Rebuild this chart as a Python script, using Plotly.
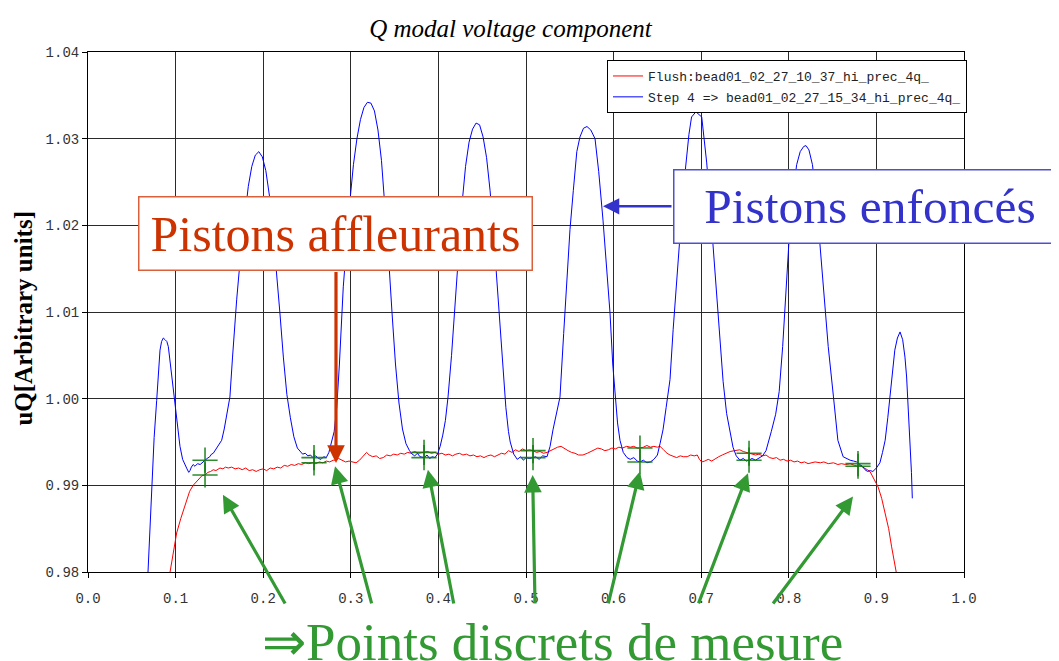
import plotly.graph_objects as go

# ---------------- data ----------------
flush_name = "Flush:bead01_02_27_10_37_hi_prec_4q_"
step_name = "Step 4 =&gt; bead01_02_27_15_34_hi_prec_4q_"

red_x = [0.0920, 0.0960, 0.1012, 0.1060, 0.1100, 0.1127, 0.1160, 0.1200, 0.1240, 0.1270,
         0.1300, 0.1336, 0.1370, 0.1400, 0.1430, 0.1460, 0.1507, 0.1540, 0.1570, 0.1600,
         0.1640, 0.1680, 0.1720, 0.1760, 0.1800, 0.1840, 0.1880, 0.1920, 0.1960, 0.2000,
         0.2040, 0.2080, 0.2120, 0.2160, 0.2200, 0.2240, 0.2280, 0.2320, 0.2360, 0.2400,
         0.2440, 0.2480, 0.2520, 0.2568, 0.2600, 0.2640, 0.2680, 0.2720, 0.2760, 0.2800,
         0.2830, 0.2860, 0.2900, 0.2940, 0.2980, 0.3020, 0.3060, 0.3100, 0.3140, 0.3180,
         0.3210, 0.3250, 0.3290, 0.3330, 0.3370, 0.3410, 0.3450, 0.3490, 0.3530, 0.3570,
         0.3610, 0.3650, 0.3690, 0.3730, 0.3770, 0.3836, 0.3880, 0.3920, 0.3960, 0.4000,
         0.4040, 0.4080, 0.4120, 0.4160, 0.4200, 0.4240, 0.4280, 0.4320, 0.4360, 0.4400,
         0.4440, 0.4480, 0.4520, 0.4560, 0.4600, 0.4640, 0.4680, 0.4720, 0.4760, 0.4800,
         0.4840, 0.4880, 0.4920, 0.4960, 0.5000, 0.5040, 0.5080, 0.5120, 0.5160, 0.5200,
         0.5240, 0.5280, 0.5320, 0.5360, 0.5400, 0.5440, 0.5480, 0.5520, 0.5560, 0.5600,
         0.5650, 0.5700, 0.5740, 0.5780, 0.5820, 0.5860, 0.5900, 0.5940, 0.5980, 0.6020,
         0.6060, 0.6100, 0.6150, 0.6190, 0.6230, 0.6270, 0.6301, 0.6340, 0.6380, 0.6420,
         0.6460, 0.6500, 0.6530, 0.6570, 0.6610, 0.6644, 0.6680, 0.6720, 0.6760, 0.6800,
         0.6840, 0.6880, 0.6920, 0.6955, 0.6980, 0.7006, 0.7040, 0.7080, 0.7120, 0.7160,
         0.7200, 0.7240, 0.7280, 0.7330, 0.7380, 0.7440, 0.7480, 0.7520, 0.7546, 0.7580,
         0.7620, 0.7660, 0.7700, 0.7740, 0.7780, 0.7820, 0.7860, 0.7900, 0.7940, 0.7980,
         0.8020, 0.8060, 0.8100, 0.8140, 0.8180, 0.8220, 0.8260, 0.8300, 0.8360, 0.8400,
         0.8450, 0.8510, 0.8560, 0.8600, 0.8650, 0.8700, 0.8750, 0.8790, 0.8810, 0.8850,
         0.8880, 0.8927, 0.8960, 0.8990, 0.9020, 0.9060, 0.9100, 0.9140, 0.9174, 0.9210,
         0.9235]
red_y = [0.9790, 0.9815, 0.9845, 0.9862, 0.9875, 0.9883, 0.9893, 0.9900, 0.9904, 0.9908,
         0.9911, 0.9912, 0.9915, 0.9916, 0.9918, 0.9917, 0.9920, 0.9919, 0.9921, 0.9920,
         0.9921, 0.9919, 0.9920, 0.9918, 0.9920, 0.9917, 0.9918, 0.9916, 0.9918, 0.9919,
         0.9917, 0.9920, 0.9919, 0.9921, 0.9920, 0.9923, 0.9922, 0.9924, 0.9923, 0.9925,
         0.9924, 0.9926, 0.9925, 0.9926, 0.9925, 0.9927, 0.9926, 0.9928, 0.9927, 0.9929,
         0.9929, 0.9931, 0.9929, 0.9927, 0.9928, 0.9927, 0.9926, 0.9929, 0.9934, 0.9938,
         0.9935, 0.9933, 0.9934, 0.9931, 0.9932, 0.9935, 0.9934, 0.9936, 0.9935, 0.9937,
         0.9936, 0.9938, 0.9937, 0.9939, 0.9937, 0.9938, 0.9939, 0.9937, 0.9938, 0.9936,
         0.9937, 0.9935, 0.9936, 0.9934, 0.9936, 0.9937, 0.9935, 0.9936, 0.9934, 0.9935,
         0.9933, 0.9934, 0.9932, 0.9934, 0.9935, 0.9933, 0.9935, 0.9937, 0.9936, 0.9940,
         0.9938, 0.9941, 0.9939, 0.9942, 0.9940, 0.9941, 0.9940, 0.9938, 0.9939, 0.9937,
         0.9938, 0.9940, 0.9942, 0.9944, 0.9945, 0.9942, 0.9940, 0.9938, 0.9937, 0.9935,
         0.9935, 0.9937, 0.9939, 0.9941, 0.9943, 0.9942, 0.9940, 0.9941, 0.9943, 0.9942,
         0.9944, 0.9943, 0.9945, 0.9944, 0.9945, 0.9943, 0.9943, 0.9944, 0.9946, 0.9944,
         0.9945, 0.9944, 0.9945, 0.9941, 0.9937, 0.9935, 0.9934, 0.9932, 0.9934, 0.9933,
         0.9933, 0.9935, 0.9934, 0.9935, 0.9930, 0.9927, 0.9928, 0.9930, 0.9928, 0.9931,
         0.9933, 0.9935, 0.9937, 0.9939, 0.9940, 0.9941, 0.9939, 0.9938, 0.9937, 0.9936,
         0.9935, 0.9936, 0.9934, 0.9935, 0.9932, 0.9931, 0.9932, 0.9929, 0.9930, 0.9928,
         0.9929, 0.9927, 0.9928, 0.9926, 0.9927, 0.9925, 0.9926, 0.9927, 0.9926, 0.9927,
         0.9925, 0.9926, 0.9924, 0.9925, 0.9924, 0.9925, 0.9923, 0.9922, 0.9923, 0.9921,
         0.9919, 0.9916, 0.9910, 0.9903, 0.9898, 0.9885, 0.9868, 0.9850, 0.9829, 0.9810,
         0.9795]

blue_x = [0.0685, 0.0705, 0.0727, 0.0755, 0.0784, 0.0805, 0.0822, 0.0840, 0.0860, 0.0880,
          0.0900, 0.0917, 0.0940, 0.0965, 0.0993, 0.1020, 0.1050, 0.1080, 0.1107, 0.1130,
          0.1150, 0.1164, 0.1180, 0.1200, 0.1221, 0.1250, 0.1280, 0.1310, 0.1336, 0.1360,
          0.1390, 0.1410, 0.1430, 0.1460, 0.1490, 0.1526, 0.1555, 0.1580, 0.1600, 0.1620,
          0.1650, 0.1697, 0.1750, 0.1790, 0.1830, 0.1870, 0.1910, 0.1950, 0.1990, 0.2030,
          0.2070, 0.2110, 0.2150, 0.2190, 0.2230, 0.2270, 0.2310, 0.2350, 0.2390,
          0.2420, 0.2450, 0.2480, 0.2510, 0.2540, 0.2568, 0.2600, 0.2630, 0.2660, 0.2690,
          0.2720, 0.2750, 0.2780, 0.2810, 0.2840, 0.2870, 0.2914, 0.2950, 0.2990, 0.3030,
          0.3070, 0.3110, 0.3150, 0.3190, 0.3230, 0.3270, 0.3310, 0.3350, 0.3390, 0.3430,
          0.3470, 0.3510, 0.3550, 0.3590, 0.3630, 0.3670, 0.3700, 0.3730, 0.3760, 0.3790,
          0.3836, 0.3870, 0.3900, 0.3930, 0.3960, 0.3990, 0.4020, 0.4050, 0.4080, 0.4110,
          0.4150, 0.4190, 0.4230, 0.4270, 0.4310, 0.4350, 0.4390, 0.4430, 0.4470, 0.4510,
          0.4550, 0.4590, 0.4630, 0.4670, 0.4710, 0.4740, 0.4770, 0.4800, 0.4820, 0.4860,
          0.4900, 0.4940, 0.4970, 0.5000, 0.5040, 0.5080, 0.5110, 0.5150, 0.5190, 0.5240,
          0.5275, 0.5308, 0.5350, 0.5388, 0.5430, 0.5470, 0.5502, 0.5540, 0.5580, 0.5616,
          0.5656, 0.5696, 0.5740, 0.5788, 0.5830, 0.5879, 0.5920, 0.5959, 0.5990, 0.6016,
          0.6045, 0.6073, 0.6110, 0.6153, 0.6190, 0.6230, 0.6270, 0.6301, 0.6340, 0.6380,
          0.6420, 0.6460, 0.6500, 0.6530, 0.6564, 0.6600, 0.6644, 0.6680, 0.6720, 0.6777,
          0.6820, 0.6860, 0.6890, 0.6940, 0.7006, 0.7030, 0.7063, 0.7100, 0.7135, 0.7175,
          0.7215, 0.7250, 0.7290, 0.7330, 0.7363, 0.7400, 0.7443, 0.7480, 0.7515, 0.7546,
          0.7580, 0.7620, 0.7660, 0.7700, 0.7740, 0.7770, 0.7800, 0.7850, 0.7890, 0.7930,
          0.7970, 0.8010, 0.8050, 0.8090, 0.8130, 0.8170, 0.8196, 0.8230, 0.8270, 0.8310,
          0.8350, 0.8380, 0.8410, 0.8450, 0.8510, 0.8560, 0.8620, 0.8660, 0.8700, 0.8740,
          0.8775, 0.8810, 0.8840, 0.8870, 0.8900, 0.8930, 0.8960, 0.9000, 0.9040, 0.9070,
          0.9100, 0.9130, 0.9155, 0.9180, 0.9210, 0.9240, 0.9270, 0.9300, 0.9326, 0.9345,
          0.9360, 0.9375, 0.9390, 0.9400, 0.9410]
blue_y = [0.9800, 0.9850, 0.9903, 0.9955, 0.9998, 1.0030, 1.0056, 1.0066, 1.0070, 1.0068,
          1.0066, 1.0060, 1.0040, 1.0022, 1.0001, 0.9972, 0.9945, 0.9930, 0.9923, 0.9919,
          0.9915, 0.9917, 0.9921, 0.9924, 0.9922, 0.9925, 0.9924, 0.9927, 0.9929, 0.9931,
          0.9933, 0.9936, 0.9937, 0.9942, 0.9946, 0.9952, 0.9965, 0.9979, 0.9992, 1.0002,
          1.0048, 1.0114, 1.0175, 1.0212, 1.0245, 1.0268, 1.0281, 1.0285, 1.0279, 1.0263,
          1.0235, 1.0195, 1.0150, 1.0100, 1.0048, 1.0005, 0.9978, 0.9956, 0.9943,
          0.9939, 0.9936, 0.9937, 0.9934, 0.9935, 0.9932, 0.9934, 0.9931, 0.9930, 0.9933,
          0.9932, 0.9938, 0.9950, 0.9962, 0.9990, 1.0040, 1.0129, 1.0180, 1.0228, 1.0270,
          1.0300, 1.0322, 1.0336, 1.0342, 1.0341, 1.0332, 1.0310, 1.0275, 1.0225, 1.0165,
          1.0100, 1.0040, 0.9995, 0.9965, 0.9948, 0.9940, 0.9936, 0.9934, 0.9937, 0.9933,
          0.9932, 0.9935, 0.9931, 0.9933, 0.9932, 0.9936, 0.9945, 0.9958, 0.9975, 1.0002,
          1.0050, 1.0108, 1.0170, 1.0225, 1.0268, 1.0296, 1.0311, 1.0318, 1.0316, 1.0302,
          1.0278, 1.0240, 1.0190, 1.0130, 1.0070, 1.0030, 0.9990, 0.9962, 0.9950, 0.9936,
          0.9930, 0.9933, 0.9929, 0.9932, 0.9931, 0.9932, 0.9933, 0.9930, 0.9934, 0.9933,
          0.9945, 0.9964, 0.9985, 1.0002, 1.0075, 1.0142, 1.0195, 1.0240, 1.0285, 1.0302,
          1.0312, 1.0314, 1.0310, 1.0300, 1.0262, 1.0206, 1.0150, 1.0099, 1.0040, 1.0002,
          0.9972, 0.9952, 0.9938, 0.9932, 0.9930, 0.9932, 0.9928, 0.9927, 0.9929, 0.9926,
          0.9927, 0.9930, 0.9935, 0.9948, 0.9964, 0.9990, 1.0022, 1.0080, 1.0140, 1.0214,
          1.0265, 1.0305, 1.0325, 1.0331, 1.0325, 1.0305, 1.0272, 1.0225, 1.0175, 1.0120,
          1.0060, 1.0020, 0.9983, 0.9960, 0.9944, 0.9934, 0.9929, 0.9931, 0.9928, 0.9929,
          0.9931, 0.9929, 0.9932, 0.9934, 0.9940, 0.9950, 0.9962, 0.9982, 1.0008, 1.0060,
          1.0130, 1.0195, 1.0240, 1.0270, 1.0285, 1.0291, 1.0292, 1.0287, 1.0270, 1.0235,
          1.0185, 1.0145, 1.0114, 1.0060, 1.0002, 0.9952, 0.9933, 0.9931, 0.9929, 0.9928,
          0.9927, 0.9924, 0.9922, 0.9918, 0.9916, 0.9917, 0.9916, 0.9920, 0.9926, 0.9938,
          0.9952, 0.9978, 1.0002, 1.0030, 1.0056, 1.0070, 1.0077, 1.0068, 1.0048, 1.0025,
          0.9998, 0.9970, 0.9941, 0.9915, 0.9885]

point_x = [0.1336, 0.2580, 0.3836, 0.5080, 0.6301, 0.7546, 0.8790]
point_blue = [0.9929, 0.9932, 0.9932, 0.9932, 0.9927, 0.9929, 0.9925]
point_red = [0.9912, 0.9926, 0.9938, 0.9940, 0.9943, 0.9937, 0.9922]

# green arrows: head (x, y) and tail (x, y) in data units
arrow_head_x = [0.154, 0.282, 0.388, 0.5076, 0.630, 0.7534, 0.8733]
arrow_head_y = [0.9889, 0.9922, 0.9918, 0.9912, 0.9916, 0.9914, 0.9887]
arrow_tail_x = [0.226, 0.3242, 0.4178, 0.5103, 0.5936, 0.6963, 0.7808]
arrow_tail_y = [0.9762, 0.9762, 0.9762, 0.9762, 0.9762, 0.9762, 0.9762]

title_text = "Q modal voltage component"
ytitle_text = "uQ[Arbitrary units]"
flush_label = "Pistons affleurants"
pushed_label = "Pistons enfoncés"
points_label = "⇒Points discrets de mesure"

# ---------------- figure ----------------
fig = go.Figure()
fig.add_trace(go.Scatter(x=red_x, y=red_y, mode="lines", name=flush_name,
                         legendgroup="a", line=dict(color="#ff0000", width=1)))
fig.add_trace(go.Scatter(x=blue_x, y=blue_y, mode="lines", name=step_name,
                         legendgroup="b", line=dict(color="#0000ff", width=1)))
fig.add_trace(go.Scatter(x=point_x + point_x, y=point_blue + point_red, mode="markers",
                         showlegend=False,
                         marker=dict(symbol="cross-thin", size=18,
                                     line=dict(color="rgba(10,120,10,0.85)", width=1.6))))

GREEN = "#339933"
ann = []
for hx, hy, tx, ty in zip(arrow_head_x, arrow_head_y, arrow_tail_x, arrow_tail_y):
    ann.append(dict(x=hx, y=hy, ax=tx, ay=ty, xref="x", yref="y", axref="x", ayref="y",
                    text="", showarrow=True, arrowhead=2, arrowsize=1.1, arrowwidth=3.2,
                    arrowcolor=GREEN))

# red arrow from label box
ann.append(dict(x=0.2831, y=0.99258, ax=0.2831, ay=1.0148, xref="x", yref="y",
                axref="x", ayref="y", text="", showarrow=True, arrowhead=2,
                arrowsize=1.1, arrowwidth=3.2, arrowcolor="#cc3300"))
# blue arrow
ann.append(dict(x=0.5879, y=1.0222, ax=0.6678, ay=1.0222, xref="x", yref="y",
                axref="x", ayref="y", text="", showarrow=True, arrowhead=2,
                arrowsize=1.3, arrowwidth=2.5, arrowcolor="#3333cc"))

ann.append(dict(x=0.2831, y=0.651, xref="paper", yref="paper", text=flush_label,
                showarrow=False, font=dict(family="Liberation Serif", size=50, color="#cc3300"),
                bgcolor="white", bordercolor="#d9603a", borderwidth=1.5, borderpad=6,
                width=380, height=60, xanchor="center", yanchor="middle"))
ann.append(dict(x=0.6678, y=0.703, xref="paper", yref="paper", text=pushed_label,
                showarrow=False, font=dict(family="Liberation Serif", size=49.5, color="#3333cc"),
                bgcolor="white", bordercolor="#5050cc", borderwidth=1.5, borderpad=6,
                width=379, height=60, xanchor="left", yanchor="middle"))
ann.append(dict(x=0.5308, y=-0.135, xref="paper", yref="paper", text=points_label,
                showarrow=False, font=dict(family="Liberation Serif", size=53, color=GREEN),
                xanchor="center", yanchor="middle"))
ann.append(dict(x=-0.0738, y=0.488, xref="paper", yref="paper", text="<b>" + ytitle_text + "</b>",
                showarrow=False, textangle=-90,
                font=dict(family="Liberation Serif", size=25, color="black"),
                xanchor="center", yanchor="middle"))

fig.update_layout(
    width=1059, height=661,
    margin=dict(l=80, r=103, t=44, b=97),
    paper_bgcolor="white", plot_bgcolor="white",
    title=dict(text=title_text, x=0.4745, xanchor="center", y=1 - 20 / 661, yanchor="middle",
               font=dict(family="Liberation Serif", size=25, color="black", style="italic")),
    legend=dict(x=0.5925, y=0.9846, xanchor="left", yanchor="top", tracegroupgap=1,
                bgcolor="white", bordercolor="black", borderwidth=1,
                font=dict(family="Liberation Mono", size=13, color="#222")),
    annotations=ann,
    showlegend=True,
)
axis_common = dict(showgrid=True, gridcolor="#2a2a2a", gridwidth=1,
                   showline=True, linecolor="black", linewidth=1, mirror=True,
                   ticks="outside", ticklen=5, tickcolor="black", zeroline=False,
                   tickfont=dict(family="Liberation Mono", size=14, color="#333"))
fig.update_xaxes(range=[0, 1], dtick=0.1, tick0=0, tickformat=".1f",
                 ticklabelstandoff=8, **axis_common)
fig.update_yaxes(range=[0.98, 1.04], dtick=0.01, tick0=0.98, tickformat=".2f", **axis_common)

fig.write_html("out.html")
